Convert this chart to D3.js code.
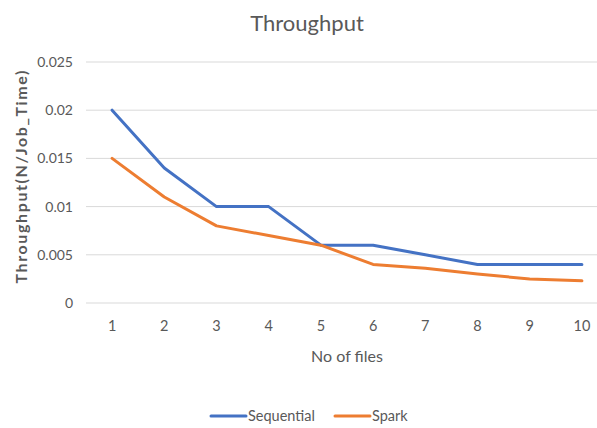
<!DOCTYPE html>
<html>
<head>
<meta charset="utf-8">
<script src="https://cdn.jsdelivr.net/npm/d3@7/dist/d3.min.js"></script>
<style>
  html, body { margin: 0; padding: 0; background: #fff; }
  svg { display: block; font-family: "Liberation Sans Narrow", Lato, "Open Sans", sans-serif; }
</style>
</head>
<body>
<svg id="chart" width="597" height="428"></svg>
<script>
// Throughput per number of files
const files = [1, 2, 3, 4, 5, 6, 7, 8, 9, 10];
const sequential = [0.02, 0.014, 0.01, 0.01, 0.006, 0.006, 0.005, 0.004, 0.004, 0.004];
const spark = [0.015, 0.011, 0.008, 0.007, 0.006, 0.004, 0.0036, 0.003, 0.0025, 0.0023];
const yTicks = [0, 0.005, 0.01, 0.015, 0.02, 0.025];
const seriesNames = ["Sequential", "Spark"];
const seriesColors = ["#4472C4", "#ED7D31"];

const svg = d3.select("#chart");
const textColor = "#595959";

const plot = { left: 86, right: 608, top: 62, bottom: 303 };

const x = d3.scaleBand().domain(files).range([plot.left, plot.right]);
const y = d3.scaleLinear().domain([0, 0.025]).range([plot.bottom, plot.top]);

// gridlines
svg.append("g")
  .selectAll("line")
  .data(yTicks)
  .join("line")
  .attr("x1", plot.left)
  .attr("x2", 597)
  .attr("y1", d => y(d))
  .attr("y2", d => y(d))
  .attr("stroke", "#d9d9d9")
  .attr("stroke-width", 1);

// y axis labels
const yAxis = d3.axisLeft(y).tickValues(yTicks).tickSize(0).tickPadding(13)
  .tickFormat(d => d === 0 ? "0" : String(+d.toFixed(3)));
const gy = svg.append("g").attr("transform", `translate(${plot.left},0)`).call(yAxis);
gy.select(".domain").remove();
gy.selectAll("text").attr("fill", textColor).style("font-size", "14px")
  .style("font-family", "Liberation Sans Narrow, Lato, sans-serif");

// x axis labels
const xAxis = d3.axisBottom(x).tickSize(0).tickPadding(18);
const gx = svg.append("g").attr("transform", `translate(0,${plot.bottom})`).call(xAxis);
gx.select(".domain").remove();
gx.selectAll("text").attr("fill", textColor).style("font-size", "14.5px")
  .style("font-family", "Liberation Sans Narrow, Lato, sans-serif");

// lines
const line = d3.line()
  .x((d, i) => x(files[i]) + x.bandwidth() / 2)
  .y(d => y(d));

[sequential, spark].forEach((vals, k) => {
  svg.append("path")
    .datum(vals)
    .attr("d", line)
    .attr("fill", "none")
    .attr("stroke", seriesColors[k])
    .attr("stroke-width", 3)
    .attr("stroke-linejoin", "round")
    .attr("stroke-linecap", "round");
});

// title
svg.append("text")
  .attr("x", 307).attr("y", 31)
  .attr("text-anchor", "middle")
  .attr("fill", textColor)
  .style("font-size", "22px")
  .text("Throughput");

// axis titles
svg.append("text")
  .attr("x", 347).attr("y", 362)
  .attr("text-anchor", "middle")
  .attr("fill", textColor)
  .style("font-size", "16px")
  .text("No of files");

svg.append("text")
  .attr("transform", "translate(27,177) rotate(-90)")
  .attr("text-anchor", "middle")
  .attr("fill", textColor)
  .attr("textLength", 213)
  .attr("lengthAdjust", "spacing")
  .style("font-size", "16px")
  .style("font-weight", "bold")
  .text("Throughput(N/Job_Time)");

// legend
const legendItems = [
  { name: seriesNames[0], color: seriesColors[0], x: 211 },
  { name: seriesNames[1], color: seriesColors[1], x: 335 }
];
const lg = svg.append("g");
legendItems.forEach(it => {
  lg.append("line")
    .attr("x1", it.x).attr("x2", it.x + 35)
    .attr("y1", 416).attr("y2", 416)
    .attr("stroke", it.color).attr("stroke-width", 3)
    .attr("stroke-linecap", "round");
  lg.append("text")
    .attr("x", it.x + 37).attr("y", 421)
    .attr("fill", textColor)
    .style("font-size", "14.5px")
    .text(it.name);
});
</script>
</body>
</html>
